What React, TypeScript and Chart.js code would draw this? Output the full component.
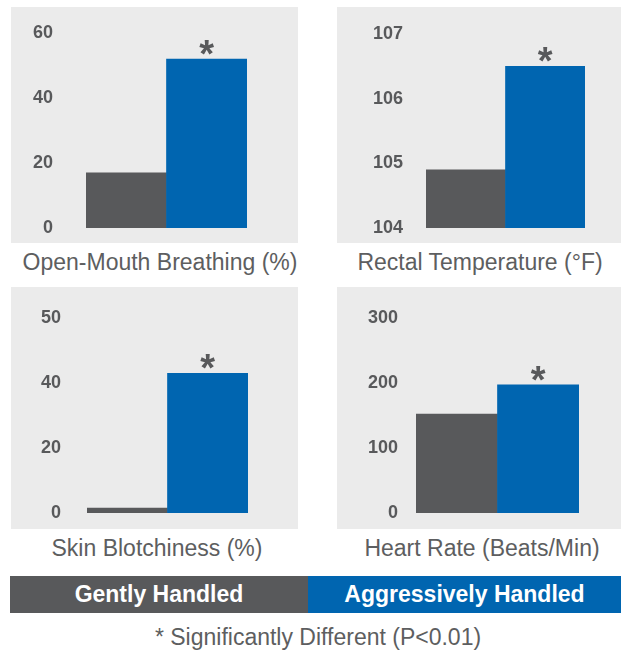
import React, { useEffect, useRef } from "react";
import { Chart, registerables } from "chart.js";

Chart.register(...registerables);

const categories = ["Gently Handled", "Aggressively Handled"];
const breathingValues = [17, 52];
const temperatureValues = [104.9, 106.5];
const blotchinessValues = [1.5, 43];
const heartRateValues = [152, 197];

const breathingTicks = ["0", "20", "40", "60"];
const temperatureTicks = ["104", "105", "106", "107"];
const blotchinessTicks = ["0", "20", "40", "50"];
const heartRateTicks = ["0", "100", "200", "300"];

const panelTitles = [
  "Open-Mouth Breathing (%)",
  "Rectal Temperature (°F)",
  "Skin Blotchiness (%)",
  "Heart Rate (Beats/Min)",
];
const footnote = "* Significantly Different (P<0.01)";

const GRAY = "#58595b";
const BLUE = "#0065b0";
const BG = "#ebebeb";
const TEXT = "#5d5e60";
const FONT = "'Liberation Sans', Arial, sans-serif";

type PanelProps = {
  left: number;
  top: number;
  width: number;
  height: number;
  values: number[];
  min: number;
  max: number;
  step: number;
  tickLabels: string[];
  axisWidth: number;
  tickPad: number;
  padTop: number;
  padBottom: number;
  padRight: number;
};

function Panel(p: PanelProps) {
  const ref = useRef<HTMLCanvasElement | null>(null);
  useEffect(() => {
    if (!ref.current) return;
    const asterisk = {
      id: "asterisk",
      afterDatasetsDraw(chart: any) {
        const el = chart.getDatasetMeta(0).data[1];
        if (!el) return;
        const ctx = chart.ctx;
        ctx.save();
        ctx.fillStyle = GRAY;
        ctx.font = `bold 38px ${FONT}`;
        ctx.textAlign = "center";
        ctx.textBaseline = "alphabetic";
        ctx.fillText("*", el.x, el.y + 8);
        ctx.restore();
      },
    };
    const chart = new Chart(ref.current, {
      type: "bar",
      data: {
        labels: categories,
        datasets: [
          {
            data: p.values,
            backgroundColor: [GRAY, BLUE],
            borderWidth: 0,
            barPercentage: 1,
            categoryPercentage: 1,
          },
        ],
      },
      options: {
        responsive: false,
        animation: false,
        layout: {
          padding: { left: 0, top: p.padTop, bottom: p.padBottom, right: p.padRight },
        },
        plugins: { legend: { display: false }, tooltip: { enabled: false } },
        scales: {
          x: { display: false },
          y: {
            min: p.min,
            max: p.max,
            border: { display: false },
            grid: { display: false, drawTicks: false },
            afterFit: (s: any) => {
              s.width = p.axisWidth;
              s.paddingTop = 0;
              s.paddingBottom = 0;
              s.paddingLeft = 0;
              s.paddingRight = 0;
            },
            ticks: {
              stepSize: p.step,
              padding: p.tickPad,
              color: GRAY,
              font: { family: FONT, weight: "bold", size: 18 },
              callback: (_v: any, i: number) => p.tickLabels[i],
            },
          },
        },
      },
      plugins: [asterisk],
    } as any);
    return () => chart.destroy();
  }, []);
  return (
    <canvas
      ref={ref}
      width={p.width}
      height={p.height}
      style={{
        position: "absolute",
        left: p.left,
        top: p.top,
        width: p.width,
        height: p.height,
        background: BG,
      }}
    />
  );
}

function Title({ x, y, text }: { x: number; y: number; text: string }) {
  return (
    <div
      style={{
        position: "absolute",
        left: x - 160,
        width: 320,
        top: y - 14,
        height: 28,
        lineHeight: "28px",
        textAlign: "center",
        fontFamily: FONT,
        fontSize: 23,
        color: TEXT,
        whiteSpace: "nowrap",
      }}
    >
      {text}
    </div>
  );
}

export default function App() {
  return (
    <div
      style={{
        position: "absolute",
        left: 0,
        top: 0,
        width: 621,
        height: 650,
        background: "#fff",
        overflow: "hidden",
      }}
    >
      <Panel left={11} top={7} width={287} height={236} values={breathingValues} min={0} max={60} step={20}
        tickLabels={breathingTicks} axisWidth={75} tickPad={33} padTop={26} padBottom={15} padRight={51} />
      <Panel left={337} top={7} width={284} height={236} values={temperatureValues} min={104} max={107} step={1}
        tickLabels={temperatureTicks} axisWidth={89} tickPad={23} padTop={27} padBottom={15} padRight={36} />
      <Panel left={11} top={287} width={287} height={242} values={blotchinessValues} min={0} max={60} step={20}
        tickLabels={blotchinessTicks} axisWidth={76} tickPad={26} padTop={31} padBottom={16} padRight={50} />
      <Panel left={337} top={287} width={284} height={242} values={heartRateValues} min={0} max={300} step={100}
        tickLabels={heartRateTicks} axisWidth={79} tickPad={18} padTop={31} padBottom={16} padRight={42} />

      <Title x={160} y={262} text={panelTitles[0]} />
      <Title x={480} y={262} text={panelTitles[1]} />
      <Title x={157} y={548} text={panelTitles[2]} />
      <Title x={482} y={548} text={panelTitles[3]} />

      <div style={{ position: "absolute", left: 10, top: 576, width: 298, height: 37, background: GRAY,
        color: "#fff", fontFamily: FONT, fontWeight: "bold", fontSize: 23, lineHeight: "37px", textAlign: "center" }}>
        {categories[0]}
      </div>
      <div style={{ position: "absolute", left: 308, top: 576, width: 313, height: 37, background: BLUE,
        color: "#fff", fontFamily: FONT, fontWeight: "bold", fontSize: 23, lineHeight: "37px", textAlign: "center" }}>
        {categories[1]}
      </div>
      <div style={{ position: "absolute", left: 0, width: 636, top: 623, height: 28, lineHeight: "28px",
        textAlign: "center", fontFamily: FONT, fontSize: 23, color: TEXT }}>
        {footnote}
      </div>
    </div>
  );
}
